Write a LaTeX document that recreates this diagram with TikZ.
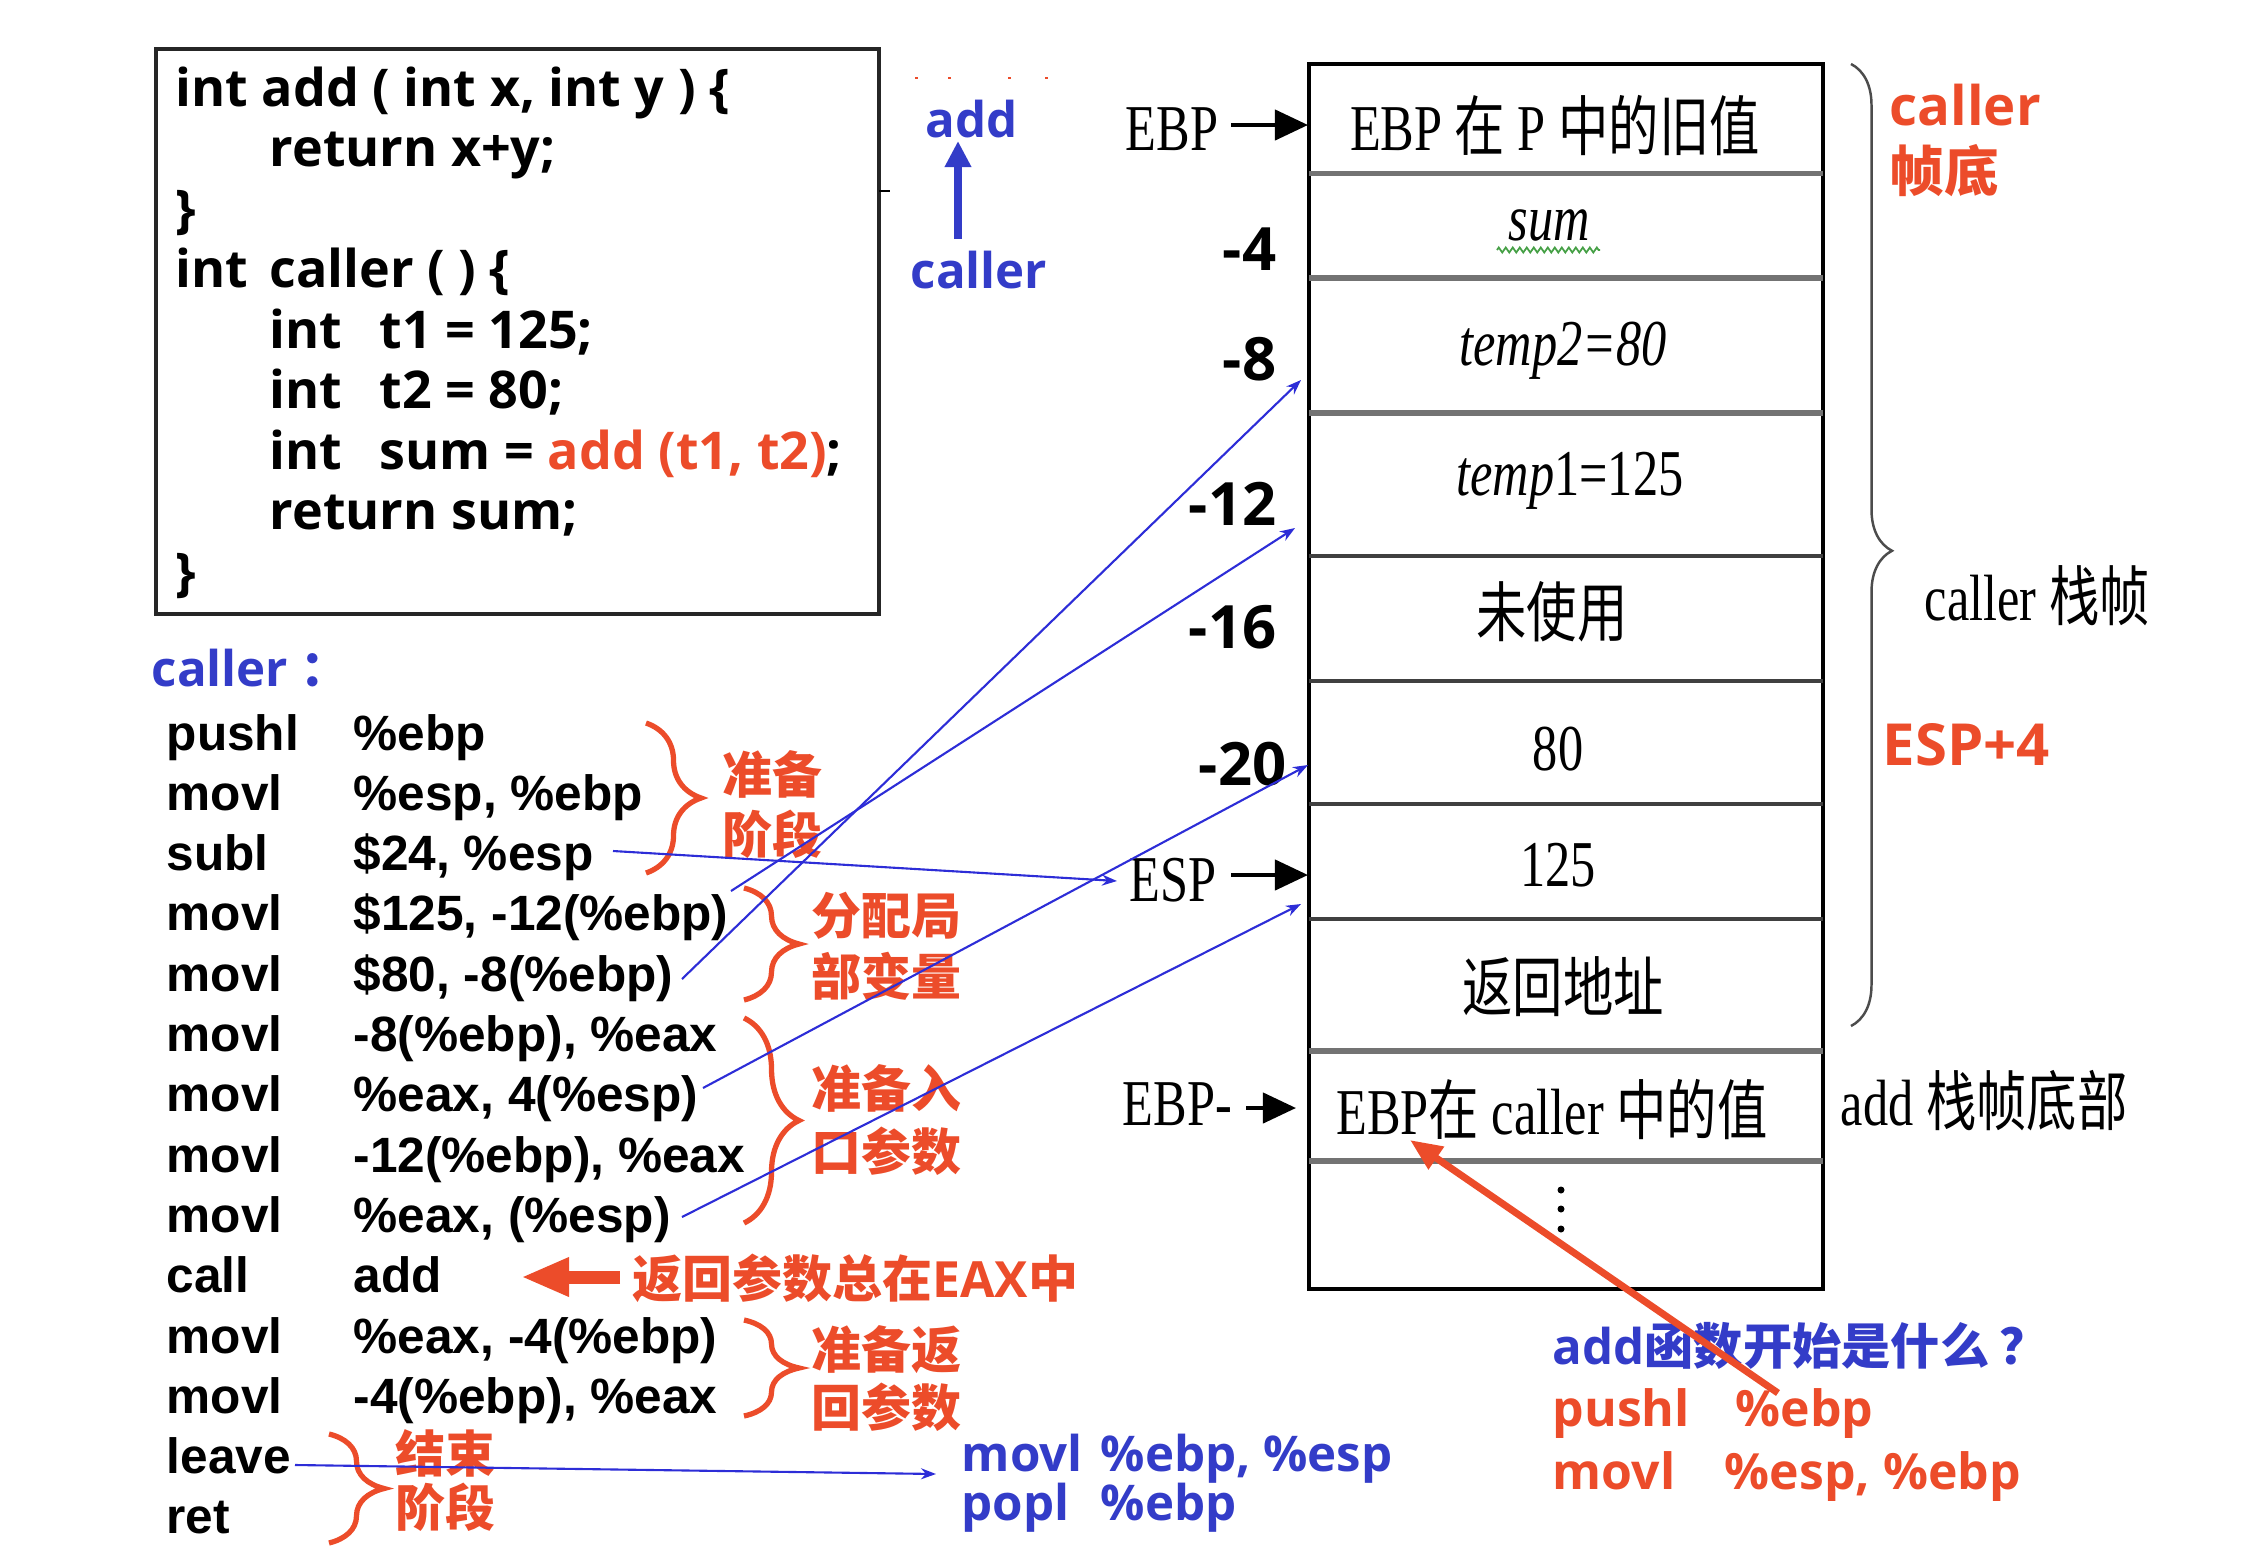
\documentclass[tikz,border=0pt]{standalone}
\usepackage{fontspec}
\usetikzlibrary{arrows.meta,decorations.pathreplacing,decorations.pathmorphing}
\setmainfont{Liberation Serif}
\newfontfamily\osans{Open Sans}
\newfontfamily\cjk{Noto Sans CJK SC}
\newfontfamily\arl{Liberation Sans}
\definecolor{myred}{RGB}{236,76,42}
\definecolor{myblue}{RGB}{51,60,200}
\definecolor{lineblue}{RGB}{45,45,215}
\definecolor{wavegreen}{RGB}{70,160,70}
\newcommand{\nar}[1]{\scalebox{0.77}[1]{#1}}
\tikzset{
 codeline/.style={anchor=base west, inner sep=0pt, font=\osans\bfseries\fontsize{14.8}{18}\selectfont},
 asmline/.style={anchor=base west, inner sep=0pt, font=\arl\bfseries\fontsize{14.1}{17}\selectfont},
 redlbl/.style={anchor=west, inner sep=0pt, text=myred, font=\cjk\bfseries\fontsize{14.2}{17}\selectfont},
 redlat/.style={anchor=base west, inner sep=0pt, text=myred, font=\osans\bfseries\fontsize{14.2}{17}\selectfont},
 bluelbl/.style={anchor=base west, inner sep=0pt, text=myblue, font=\osans\bfseries\fontsize{14}{17}\selectfont},
 stxt/.style={inner sep=0pt, font=\fontsize{18.6}{22}\selectfont},
 offs/.style={anchor=base east, inner sep=0pt, font=\osans\bfseries\fontsize{17}{20}\selectfont},
 redbrace/.style={draw=myred, line width=1.5pt, decorate, decoration={brace, amplitude=0.55cm}},
 bl/.style={draw=lineblue, line width=0.6pt, -{Stealth[length=0.15cm,width=0.11cm]}},
 fatarrow/.style={line width=1.2pt, -{Triangle[length=0.33cm,width=0.3cm]}},
 divider/.style={line width=1.1pt, draw=black!75},
 thickdiv/.style={line width=1.5pt, draw=black!55},
}
\begin{document}
\begin{tikzpicture}[x=0.01cm,y=-0.01cm]
\useasboundingbox (0,0) rectangle (2244,1566);

% ---------- C code box ----------
\draw[line width=0.9pt, draw=black!85] (156,49) rectangle (879,614);
\draw[line width=0.6pt] (879,191) -- (890,191);
\foreach \x in {915,948,1008,1045} \fill[myred] (\x,77) rectangle ++(3,2);
\node[codeline] (c1) at (175,106) {int add ( int x, int y ) \{};
\node[codeline] (c2) at (269,166.5) {return x+y;};
\node[codeline] (c3) at (175,227) {\}};
\node[codeline] (c4a) at (175,287.5) {int};
\node[codeline] (c4b) at (269,287.5) {caller ( ) \{};
\node[codeline] (c5a) at (269,348) {int};
\node[codeline] (c5b) at (379,348) {t1 = 125;};
\node[codeline] (c6a) at (269,408.5) {int};
\node[codeline] (c6b) at (379,408.5) {t2 = 80;};
\node[codeline] (c7a) at (269,469) {int};
\node[codeline] (c7b) at (379,469) {sum = \textcolor{myred}{add (t1, t2)};};
\node[codeline] (c8) at (269,529.5) {return sum;};
\node[codeline] (c9) at (175,590) {\}};

% ---------- add <- caller ----------
\node[bluelbl] (addtop) at (925,137) {add};
\node[bluelbl] (callertop) at (910,288) {caller};
\coordinate (upA) at (958,239);
\coordinate (upB) at (958,141);
\draw[myblue, line width=2pt, -{Triangle[length=0.26cm,width=0.25cm]}] (upA) -- (upB);

% ---------- assembly listing ----------
\node[bluelbl] (callerlbl) at (151,686) {caller\hspace{0.25em}{\cjk ：}};
\node[asmline] (m0) at (166,750) {pushl};   \node[asmline] (o0) at (353,750) {\%ebp};
\node[asmline] (m1) at (166,810.3) {movl};  \node[asmline] (o1) at (353,810.3) {\%esp, \%ebp};
\node[asmline] (m2) at (166,870.6) {subl};  \node[asmline] (o2) at (353,870.6) {\$24, \%esp};
\node[asmline] (m3) at (166,930.9) {movl};  \node[asmline] (o3) at (353,930.9) {\$125, -12(\%ebp)};
\node[asmline] (m4) at (166,991.2) {movl};  \node[asmline] (o4) at (353,991.2) {\$80, -8(\%ebp)};
\node[asmline] (m5) at (166,1051.5) {movl}; \node[asmline] (o5) at (353,1051.5) {-8(\%ebp), \%eax};
\node[asmline] (m6) at (166,1111.8) {movl}; \node[asmline] (o6) at (353,1111.8) {\%eax, 4(\%esp)};
\node[asmline] (m7) at (166,1172.1) {movl}; \node[asmline] (o7) at (353,1172.1) {-12(\%ebp), \%eax};
\node[asmline] (m8) at (166,1232.4) {movl}; \node[asmline] (o8) at (353,1232.4) {\%eax, (\%esp)};
\node[asmline] (m9) at (166,1292.7) {call}; \node[asmline] (o9) at (353,1292.7) {add};
\node[asmline] (m10) at (166,1353) {movl};  \node[asmline] (o10) at (353,1353) {\%eax, -4(\%ebp)};
\node[asmline] (m11) at (166,1413.3) {movl}; \node[asmline] (o11) at (353,1413.3) {-4(\%ebp), \%eax};
\node[asmline] (m12) at (166,1473.6) {leave};
\node[asmline] (m13) at (166,1533.9) {ret};

% ---------- red braces and labels ----------
\draw[redbrace] (646,723) -- (646,873);
\node[redlbl] (lb1a) at (722,774) {准备};
\node[redlbl] (lb1b) at (722,834) {阶段};
\draw[redbrace] (744,888) -- (744,1000);
\node[redlbl] (lb2a) at (811,916) {分配局};
\node[redlbl] (lb2b) at (811,976) {部变量};
\draw[redbrace] (744,1018) -- (744,1223);
\node[redlbl] (lb3a) at (811,1088) {准备入};
\node[redlbl] (lb3b) at (811,1151) {口参数};
\draw[redbrace] (744,1320) -- (744,1416);
\node[redlbl] (lb4a) at (811,1350) {准备返};
\node[redlbl] (lb4b) at (811,1407) {回参数};
\draw[redbrace] (329,1434) -- (329,1543);
\node[redlbl] (lb5a) at (395,1453) {结束};
\node[redlbl] (lb5b) at (395,1507) {阶段};

\node[redlbl] (eaxlbl) at (632,1278) {返回参数总在{\osans EAX}中};
\coordinate (raS) at (620,1277);
\coordinate (raE) at (521,1277);
\draw[myred, line width=3.7pt, -{Triangle[length=0.48cm,width=0.36cm]}] (raS) -- (raE);

% ---------- blue bottom-left ----------
\node[bluelbl] (bl1a) at (961,1471) {movl};
\node[bluelbl] (bl1b) at (1100,1471) {\%ebp, \%esp};
\node[bluelbl] (bl2a) at (961,1520) {popl};
\node[bluelbl] (bl2b) at (1100,1520) {\%ebp};

% ---------- stack ----------
\draw[line width=1.1pt] (1309,64) rectangle (1823,1289);
\draw[thickdiv] (1309,173.5) -- (1823,173.5);
\draw[thickdiv] (1309,278) -- (1823,278);
\draw[thickdiv] (1309,413) -- (1823,413);
\draw[divider] (1309,556) -- (1823,556);
\draw[divider] (1309,681) -- (1823,681);
\draw[divider] (1309,803.6) -- (1823,803.6);
\draw[divider] (1309,919) -- (1823,919);
\draw[thickdiv] (1309,1051) -- (1823,1051);
\draw[thickdiv] (1309,1161) -- (1823,1161);

\node[stxt, anchor=base] (s1) at (1555,150) {\nar{EBP {\cjk 在} P {\cjk 中的旧值}}};
\node[stxt, anchor=base] (s2) at (1549,240) {\nar{\textit{sum}}};
\draw[wavegreen, line width=0.5pt, decorate, decoration={zigzag, segment length=0.07cm, amplitude=0.025cm}] (1497,250) -- (1600,250);
\node[stxt, anchor=base] (s3) at (1563,365) {\nar{\textit{temp2=80}}};
\node[stxt, anchor=base] (s4) at (1570,495) {\nar{\textit{temp}1=125}};
\node[stxt, anchor=center] (s5) at (1552,612) {\nar{\cjk 未使用}};
\node[stxt, anchor=base] (s6) at (1558,770) {\nar{80}};
\node[stxt, anchor=base] (s7) at (1558,886) {\nar{125}};
\node[stxt, anchor=center] (s8) at (1563,987) {\nar{\cjk 返回地址}};
\node[stxt, anchor=base] (s9) at (1552,1134) {\nar{EBP{\cjk 在} caller {\cjk 中的值}}};
\fill (1561,1190) circle (3.5);
\fill (1561,1209) circle (3.5);
\fill (1561,1229) circle (3.5);

% left pointer labels
\node[stxt, anchor=base west] (ebpl) at (1125,150) {\nar{EBP}};
\coordinate (ebpA) at (1231,125);
\coordinate (ebpB) at (1308,125);
\draw[fatarrow] (ebpA) -- (ebpB);
\node[stxt, anchor=base west] (espl) at (1129,901) {\nar{ESP}};
\coordinate (espA) at (1231,875);
\coordinate (espB) at (1308,875);
\draw[fatarrow] (espA) -- (espB);
\node[stxt, anchor=base west] (ebpml) at (1122,1125) {\nar{EBP-}};
\coordinate (ebpmA) at (1246,1108);
\coordinate (ebpmB) at (1296,1108);
\draw[fatarrow] (ebpmA) -- (ebpmB);

% offsets
\node[offs] (off4) at (1277,270) {-4};
\node[offs] (off8) at (1277,380) {-8};
\node[offs] (off12) at (1277,525.5) {-12};
\node[offs] (off16) at (1277,648) {-16};
\node[offs] (off20) at (1287,785.7) {-20};

% right side
\draw[black!70, line width=0.7pt, decorate, decoration={brace, amplitude=0.41cm, aspect=0.506}] (1851,64) -- (1851,1026);
\node[redlat, font=\osans\bfseries\fontsize{15.5}{18}\selectfont] (rc1) at (1889,125) {caller};
\node[redlbl, font=\cjk\bfseries\fontsize{15.5}{18}\selectfont] (rc2) at (1889,171) {帧底};
\node[stxt, anchor=base west] (cframe) at (1924,620) {\nar{caller {\cjk 栈帧}}};
\node[redlat, font=\osans\bfseries\fontsize{16.5}{19}\selectfont] (esp4) at (1882,765) {ESP+4};
\node[stxt, anchor=base west] (aframe) at (1840,1125) {\nar{add {\cjk 栈帧底部}}};

% bottom right
\node[bluelbl] (q1) at (1552,1364) {add{\cjk\bfseries 函数开始是什么\hspace{0.2em}？}};
\node[redlat] (q2a) at (1552,1426.5) {pushl};
\node[redlat] (q2b) at (1735,1426.5) {\%ebp};
\node[redlat] (q3a) at (1552,1489) {movl};
\node[redlat] (q3b) at (1724,1489) {\%esp, \%ebp};
\coordinate (rbS) at (1778,1393);
\coordinate (rbE) at (1410,1140);
\draw[myred, line width=2pt, -{Triangle[length=0.32cm,width=0.26cm]}] (rbS) -- (rbE);

% ---------- blue connectors ----------
\coordinate (a1) at (613,851);  \coordinate (b1) at (1117,881);
\coordinate (a2) at (731,891);  \coordinate (b2) at (1295,528);
\coordinate (a3) at (682,979);  \coordinate (b3) at (1301,380);
\coordinate (a4) at (703,1088); \coordinate (b4) at (1308,765);
\coordinate (a5) at (682,1217); \coordinate (b5) at (1301,904);
\coordinate (a6) at (295,1465); \coordinate (b6) at (936,1474);
\draw[bl] (a1) -- (b1);
\draw[bl] (a2) -- (b2);
\draw[bl] (a3) -- (b3);
\draw[bl] (a4) -- (b4);
\draw[bl] (a5) -- (b5);
\draw[bl] (a6) -- (b6);
\end{tikzpicture}
\end{document}
